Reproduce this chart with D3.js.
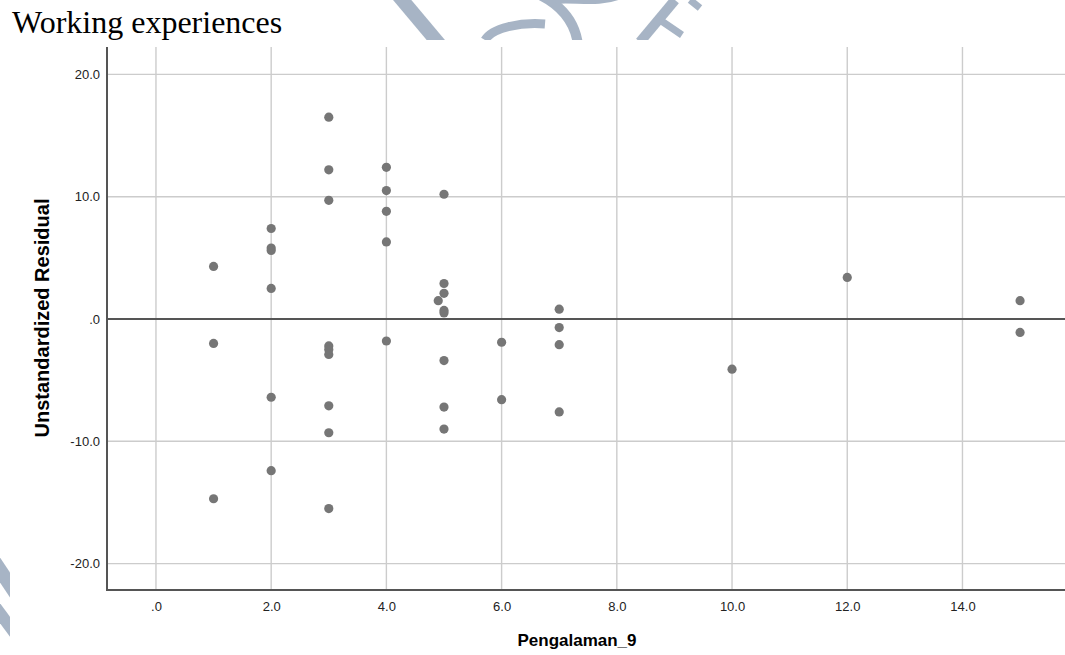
<!DOCTYPE html>
<html>
<head>
<meta charset="utf-8">
<script src="https://cdn.jsdelivr.net/npm/d3@7"></script>
<style>
  html, body { margin: 0; padding: 0; background: #fff; }
  svg { display: block; }
</style>
</head>
<body>
<svg id="chart" width="1065" height="655"></svg>
<script>
// ---- data ----
const titleText = "Working experiences";
const xTitle = "Pengalaman_9";
const yTitle = "Unstandardized Residual";
const xTicks = [0, 2, 4, 6, 8, 10, 12, 14];
const yTicks = [-20, -10, 0, 10, 20];
const pengalaman = [
  1, 1, 1,
  2, 2, 2, 2, 2, 2,
  3, 3, 3, 3, 3, 3, 3, 3, 3,
  4, 4, 4, 4, 4,
  4.9,
  5, 5, 5, 5, 5, 5, 5, 5,
  6, 6,
  7, 7, 7, 7,
  10,
  12,
  15, 15
];
const residual = [
  4.3, -2.0, -14.7,
  7.4, 5.8, 5.6, 2.5, -6.4, -12.4,
  16.5, 12.2, 9.7, -2.2, -2.5, -2.9, -7.1, -9.3, -15.5,
  12.4, 10.5, 8.8, 6.3, -1.8,
  1.5,
  10.2, 2.9, 2.1, 0.7, 0.5, -3.4, -7.2, -9.0,
  -1.9, -6.6,
  0.8, -0.7, -2.1, -7.6,
  -4.1,
  3.4,
  1.5, -1.1
];

// ---- layout ----
const svg = d3.select("#chart");
const L = 107, R = 1065, T = 47, B = 590;
const x = d3.scaleLinear().domain([-0.85, 15.78]).range([L, R]);
const y = d3.scaleLinear().domain([-22.16, 22.24]).range([B, T]);
const fmt = d => d === 0 ? ".0" : d.toFixed(1);

// watermark fragments (outside the chart image)
const wm = svg.append("g").attr("fill", "none").attr("stroke", "#8a9cb2")
  .attr("stroke-linecap", "butt").attr("opacity", 0.75);
const clip = svg.append("clipPath").attr("id", "wmclip");
clip.append("rect").attr("x", 0).attr("y", 0).attr("width", 1065).attr("height", 40);
clip.append("rect").attr("x", 0).attr("y", 0).attr("width", 10).attr("height", 655);
wm.attr("clip-path", "url(#wmclip)");
wm.append("path").attr("d", "M398,-5 L440,45").attr("stroke-width", 14);
wm.append("path").attr("d", "M485,40 C492,28 520,22 545,24").attr("stroke-width", 9);
wm.append("path").attr("d", "M540,-5 C560,5 575,20 578,45").attr("stroke-width", 10);
wm.append("path").attr("d", "M555,0 C575,-2 600,4 620,-5").attr("stroke-width", 8);
wm.append("path").attr("d", "M640,42 L675,0").attr("stroke-width", 10);
wm.append("path").attr("d", "M660,20 L682,35").attr("stroke-width", 7);
wm.append("path").attr("d", "M690,0 L700,8").attr("stroke-width", 7);
wm.append("path").attr("d", "M-10,555 L20,600").attr("stroke-width", 14);
wm.append("path").attr("d", "M-10,600 L20,640").attr("stroke-width", 12);

// chart background
svg.append("rect").attr("x", 10).attr("y", 40).attr("width", 1055).attr("height", 615).attr("fill", "#fff");

// title
svg.append("text").attr("x", 12).attr("y", 33)
  .attr("font-family", "'Liberation Serif', 'Times New Roman', serif")
  .attr("font-size", 32).attr("fill", "#000").text(titleText);

// gridlines
const grid = svg.append("g").attr("stroke", "#cccccc").attr("stroke-width", 1.4);
grid.selectAll("line.v").data(xTicks).join("line")
  .attr("x1", d => x(d)).attr("x2", d => x(d)).attr("y1", T).attr("y2", B);
grid.selectAll("line.h").data(yTicks.filter(d => d !== 0)).join("line")
  .attr("x1", L).attr("x2", R).attr("y1", d => y(d)).attr("y2", d => y(d));

// zero reference line
svg.append("line").attr("x1", L).attr("x2", R).attr("y1", y(0)).attr("y2", y(0))
  .attr("stroke", "#555").attr("stroke-width", 2);

// axes
const xAxis = svg.append("g").attr("transform", `translate(0,${B})`)
  .call(d3.axisBottom(x).tickValues(xTicks).tickFormat(fmt).tickSize(0).tickPadding(12));
const yAxis = svg.append("g").attr("transform", `translate(${L},0)`)
  .call(d3.axisLeft(y).tickValues(yTicks).tickFormat(fmt).tickSize(0).tickPadding(7));
[xAxis, yAxis].forEach(a => {
  a.select(".domain").remove();
  a.selectAll("text").attr("font-family", "'Liberation Sans', Arial, sans-serif")
    .attr("font-size", 13).attr("fill", "#222");
});
svg.append("line").attr("x1", L).attr("x2", L).attr("y1", T).attr("y2", B + 1)
  .attr("stroke", "#555").attr("stroke-width", 2);
svg.append("line").attr("x1", L - 1).attr("x2", R).attr("y1", B).attr("y2", B)
  .attr("stroke", "#555").attr("stroke-width", 2);

// points
svg.append("g").selectAll("circle").data(pengalaman.map((p, i) => [p, residual[i]])).join("circle")
  .attr("cx", d => x(d[0])).attr("cy", d => y(d[1])).attr("r", 4.6).attr("fill", "#767676");

// axis titles
svg.append("text").attr("x", 577).attr("y", 646).attr("text-anchor", "middle")
  .attr("font-family", "'Liberation Sans', Arial, sans-serif").attr("font-weight", "bold")
  .attr("font-size", 17).attr("fill", "#000").text(xTitle);
svg.append("text").attr("transform", "translate(49,318) rotate(-90)").attr("text-anchor", "middle")
  .attr("font-family", "'Liberation Sans', Arial, sans-serif").attr("font-weight", "bold")
  .attr("font-size", 20).attr("fill", "#000").text(yTitle);
</script>
</body>
</html>
